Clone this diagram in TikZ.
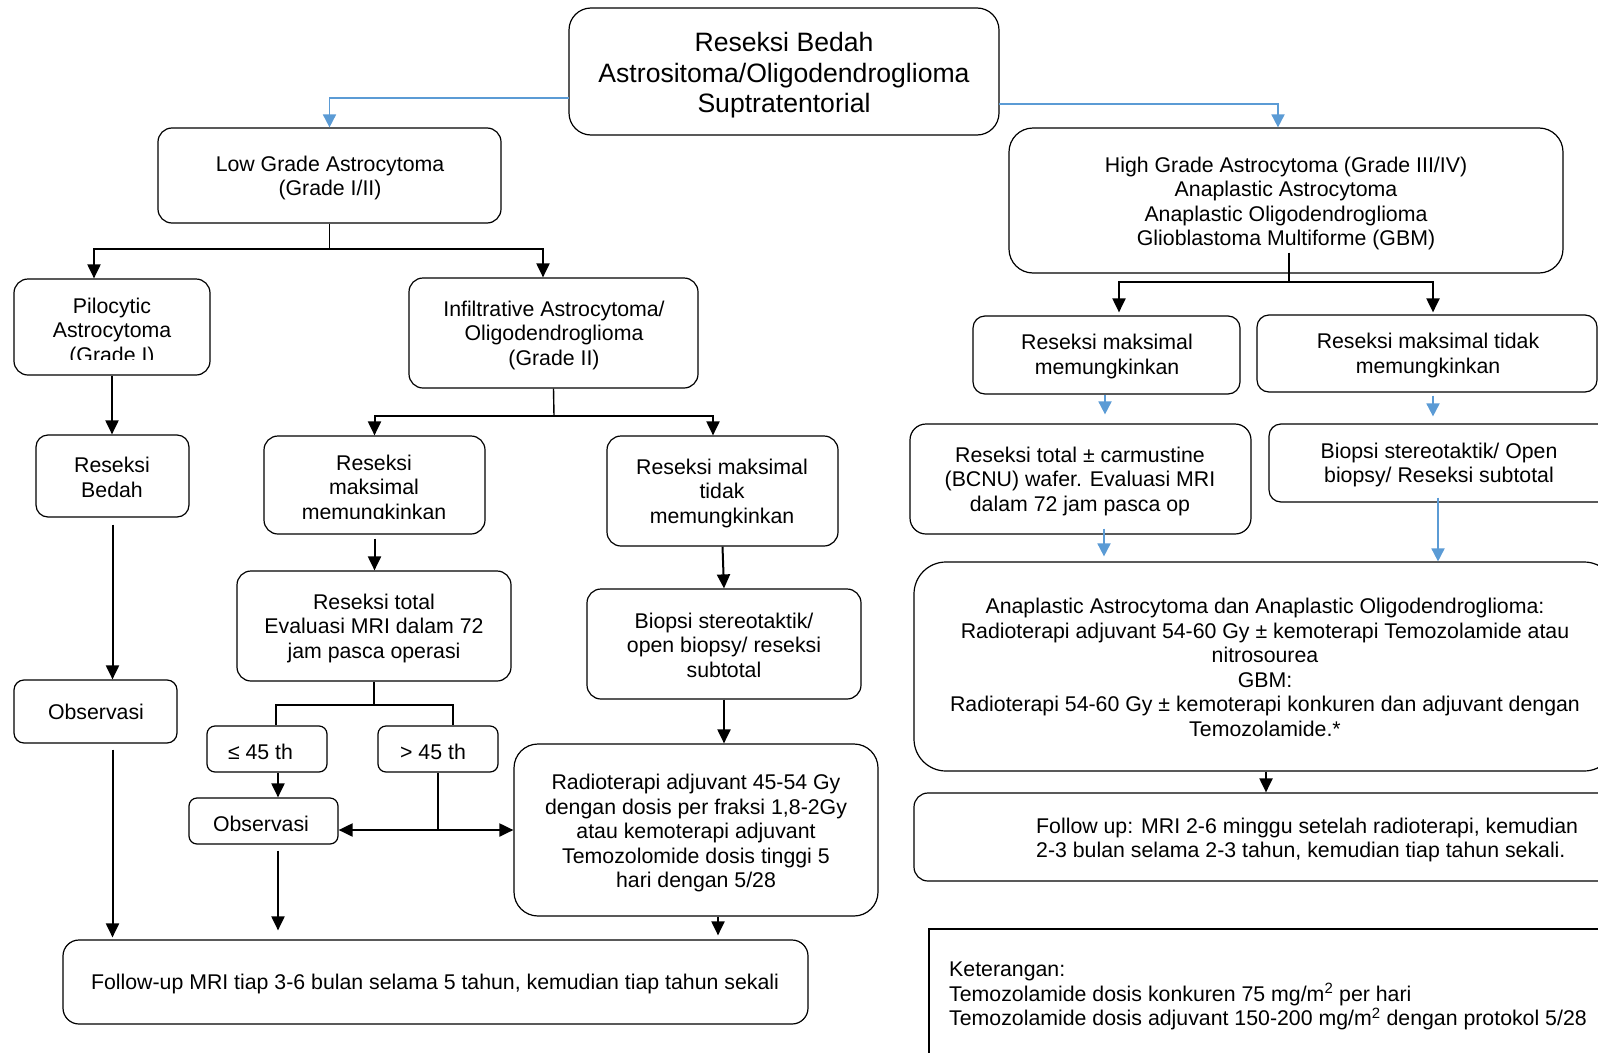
\documentclass[tikz,border=0pt]{standalone}
\usepackage{fontspec}
\setmainfont{Liberation Sans}
\usetikzlibrary{arrows.meta}
\definecolor{flowblue}{RGB}{91,155,213}
% box from its corners: name, x1, y1, x2, y2, corner radius
\newcommand\mkbox[6]{\node[box, rounded corners=#6, minimum width={#4-#2}, minimum height={#5-#3}] (#1) at ({(#2+#4)/2},{(#3+#5)/2}) {};}
\begin{document}
\begin{tikzpicture}[x=1pt,y=-1pt,
  box/.style={draw=black, line width=1.2pt, inner sep=0pt, fill=none},
  txt/.style={font=\fontsize{21.3}{24.5}\selectfont, align=center, inner sep=0pt},
  bigtxt/.style={font=\fontsize{26.6}{30.6}\selectfont, align=center, inner sep=0pt},
  arr/.style={line width=2pt, -{Triangle[width=13pt,length=14pt]}},
  ln/.style={line width=1.4pt},
  barr/.style={draw=flowblue, line width=1.8pt, -{Triangle[width=13pt,length=13pt]}},
]
\clip (0,0) rectangle (1598,1052);
\fill[white] (0,0) rectangle (1598,1052);

% ---------- boxes ----------
\mkbox{top}{569}{8}{999}{135}{22pt}
\mkbox{low}{158}{128}{501}{223}{14pt}
\mkbox{pilo}{14}{279}{210}{375}{14pt}
\mkbox{inf}{409}{278}{698}{388}{14pt}
\mkbox{rb}{36}{435}{189}{517}{12pt}
\mkbox{obA}{14}{680}{177}{743}{10pt}
\mkbox{rmm}{264}{436}{485}{534}{14pt}
\mkbox{rmt}{607}{436}{838}{546}{14pt}
\mkbox{rte}{237}{571}{511}{681}{14pt}
\mkbox{bioA}{587}{589}{861}{699}{14pt}
\mkbox{le}{207}{726}{327}{772}{8pt}
\mkbox{gt}{378}{726}{498}{772}{8pt}
\mkbox{obB}{189}{798}{338}{844}{8pt}
\mkbox{rad}{514}{744}{878}{916}{24pt}
\mkbox{fuA}{63}{940}{808}{1024}{16pt}

\mkbox{high}{1009}{128}{1563}{273}{24pt}
\mkbox{rmA}{973}{316}{1240}{394}{12pt}
\mkbox{rtA}{1257}{315}{1597}{392}{12pt}
\mkbox{rtc}{910}{424}{1251}{534}{16pt}
\mkbox{bioB}{1269}{424}{1612}{502}{12pt}
\mkbox{ana}{914}{562}{1616}{771}{32pt}
\mkbox{fuB}{914}{793}{1616}{881}{14pt}
\mkbox{ket}{929}{929}{1620}{1070}{0pt}

% ---------- texts ----------
\node[bigtxt] (topT) at (784,75.5) {Reseksi Bedah\\Astrositoma/Oligodendroglioma\\Suptratentorial};
\node[txt] (lowT) at (330,178) {Low Grade Astrocytoma\\(Grade I/II)};
\begin{scope}
  \clip (14,279) rectangle (210,359);
  \node[txt] (piloT) at (112,332) {Pilocytic\\Astrocytoma\\(Grade I)};
\end{scope}
\node[txt] (infT) at (554,335) {Infiltrative Astrocytoma/\\Oligodendroglioma\\(Grade II)};
\node[txt] (rbT) at (112,477.5) {Reseksi\\Bedah};
\node[txt] (obAT) at (96,712) {Observasi};
\begin{scope}
  \clip (264,436) rectangle (485,518);
  \node[txt] (rmmT) at (374,489) {Reseksi\\maksimal\\memungkinkan};
\end{scope}
\node[txt] (rmtT) at (722,493) {Reseksi maksimal\\tidak\\memungkinkan};
\node[txt] (rteT) at (374,628) {Reseksi total\\Evaluasi MRI dalam 72\\jam pasca operasi};
\node[txt] (bioAT) at (724,645) {Biopsi stereotaktik/\\open biopsy/ reseksi\\subtotal};
\node[txt] (leT) at (260.5,752) {≤ 45 th};
\node[txt] (gtT) at (433,752) {> 45 th};
\node[txt] (obBT) at (261,824) {Observasi};
\node[txt] (radT) at (696,833.4) {Radioterapi adjuvant 45-54 Gy\\dengan dosis per fraksi 1,8-2Gy\\atau kemoterapi adjuvant\\Temozolomide dosis tinggi 5\\hari dengan 5/28};
\node[txt] (fuAT) at (435,984) {Follow-up MRI tiap 3-6 bulan selama 5 tahun, kemudian tiap tahun sekali};

\node[txt] (highT) at (1286,203.5) {High Grade Astrocytoma (Grade III/IV)\\Anaplastic Astrocytoma\\Anaplastic Oligodendroglioma\\Glioblastoma Multiforme (GBM)};
\node[txt] (rmAT) at (1107,356.5) {Reseksi maksimal\\memungkinkan};
\node[txt] (rtAT) at (1428,355.5) {Reseksi maksimal tidak\\memungkinkan};
\node[txt] (rtcT) at (1080,481) {Reseksi total ± carmustine\\(BCNU) wafer. Evaluasi MRI\\dalam 72 jam pasca op};
\node[txt] (bioBT) at (1439,465) {Biopsi stereotaktik/ Open\\biopsy/ Reseksi subtotal};
\node[txt] (anaT) at (1265,667.5) {Anaplastic Astrocytoma dan Anaplastic Oligodendroglioma:\\Radioterapi adjuvant 54-60 Gy ± kemoterapi Temozolamide atau\\nitrosourea\\GBM:\\Radioterapi 54-60 Gy ± kemoterapi konkuren dan adjuvant dengan\\Temozolamide.*};
\node[txt, align=left, anchor=west] (fuBT) at (1036,840) {Follow up: MRI 2-6 minggu setelah radioterapi, kemudian\\2-3 bulan selama 2-3 tahun, kemudian tiap tahun sekali.};
\node[txt, align=left, anchor=west] (ketT) at (949,996) {Keterangan:\\Temozolamide dosis konkuren 75 mg/m\textsuperscript{2} per hari\\Temozolamide dosis adjuvant 150-200 mg/m\textsuperscript{2} dengan protokol 5/28};

% ---------- connectors ----------
\coordinate (bA) at (569,98);
\coordinate (bB) at (999,104);
\draw[barr] (bA) -| (low.north);
\draw[barr] (bB) -| ([xshift=-8pt]high.north);

% low grade branch
\coordinate (jA) at (329.5,249);
\draw[ln] (low.south) -- (jA);
\draw[arr] (jA) -| ([xshift=-18pt]pilo.north);
\draw[arr] (jA) -| ([xshift=-10.5pt]inf.north);
\draw[arr] (pilo.south) -- (pilo.south |- rb.north);
\draw[arr, shorten <=7pt] (rb.south) -- (rb.south |- obA.north);
\draw[arr, shorten <=6pt, shorten >=2pt] (rb.south |- obA.south) -- (rb.south |- fuA.north);

% infiltrative branch
\coordinate (jB) at (554,416);
\draw[ln] (inf.south) -- (jB);
\draw[arr] (jB) -| (rmm.north);
\draw[arr] (jB) -| ([xshift=-9.5pt]rmt.north);
\draw[arr, shorten <=4pt] (rmm.south) -- (rmm.south |- rte.north);
\draw[arr] (rmt.south) -- (bioA.north);
\draw[arr] (bioA.south) -- (bioA.south |- rad.north);

% age split
\coordinate (jC) at (374,705);
\draw[ln] (rte.south) -- (jC);
\draw[ln] (jC) -| ([xshift=9pt]le.north);
\draw[ln] (jC) -| ([xshift=15pt]gt.north);
\draw[arr] ([xshift=11pt]le.south) -- ([xshift=11pt]le.south |- obB.north);
\coordinate (jD) at (438,830);
\draw[ln] (gt.south) -- (jD);
\draw[line width=2pt, {Triangle[width=13pt,length=14pt]}-{Triangle[width=13pt,length=14pt]}] (obB.east |- jD) -- (rad.west |- jD);
\draw[arr, shorten <=6pt, shorten >=9pt] ([xshift=14.5pt]obB.south) -- ([xshift=14.5pt]obB.south |- fuA.north);
\draw[arr, shorten >=4pt] ([xshift=22pt]rad.south) -- ([xshift=22pt]rad.south |- fuA.north);

% high grade branch
\coordinate (jE) at (1289,282);
\draw[ln] ([xshift=3pt,yshift=21pt]high.south) -- (jE);
\draw[arr, shorten >=3pt] (jE) -| ([xshift=12.5pt]rmA.north);
\draw[arr, shorten >=2pt] (jE) -| ([xshift=6pt]rtA.north);
\draw[barr, shorten >=9pt] ([xshift=-1.5pt]rmA.south) -- ([xshift=-1.5pt]rmA.south |- rtc.north);
\draw[barr, shorten <=3pt, shorten >=7pt] ([xshift=6pt]rtA.south) -- ([xshift=6pt]rtA.south |- bioB.north);
\draw[barr, shorten >=5pt] ([xshift=23.5pt,yshift=6pt]rtc.south) -- ([xshift=23.5pt]rtc.south |- ana.north);
\draw[barr] ([xshift=-2.5pt,yshift=5pt]bioB.south) -- ([xshift=-2.5pt]bioB.south |- ana.north);
\draw[arr] ([xshift=1pt]ana.south) -- ([xshift=1pt]ana.south |- fuB.north);
\end{tikzpicture}
\end{document}
